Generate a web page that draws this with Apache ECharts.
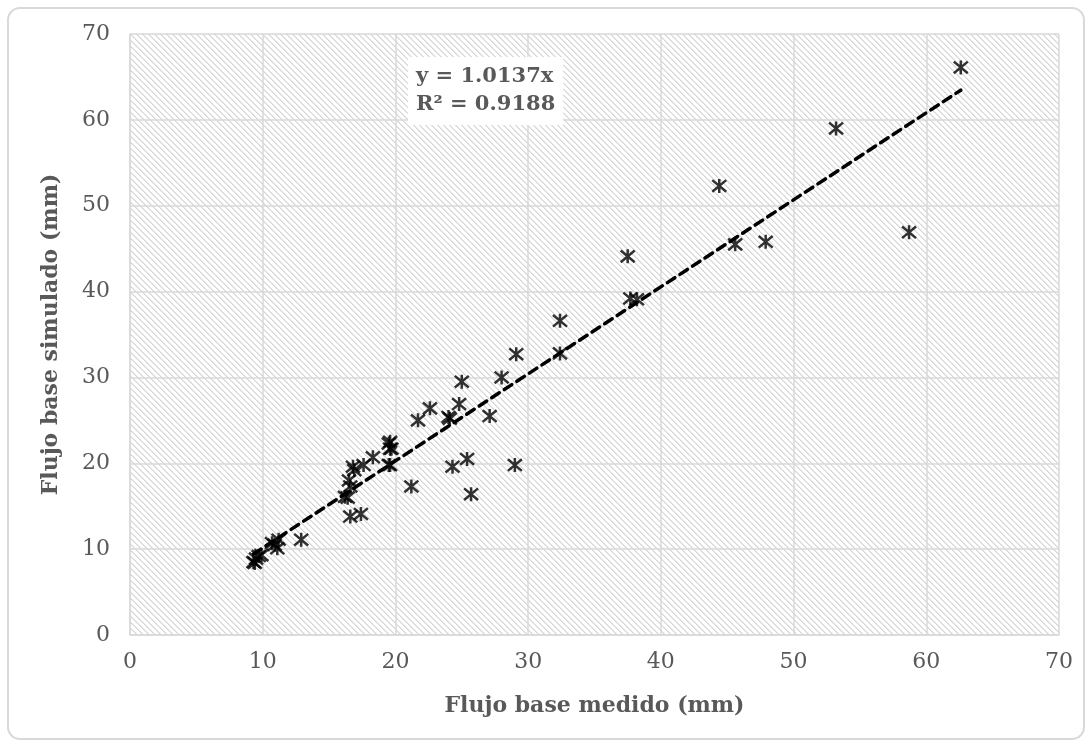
<!DOCTYPE html>
<html>
<head>
<meta charset="utf-8">
<script src="https://cdn.jsdelivr.net/npm/echarts@6/dist/echarts.min.js"></script>
<style>
  html, body { margin: 0; padding: 0; background: #fff; }
  #chart { width: 1091px; height: 745px; }
</style>
</head>
<body>
<div id="chart"></div>
<script>
// measured (x) vs simulated (y) baseflow, mm
const medido = [9.3, 9.5, 9.7, 9.4, 9.9, 10.7, 10.9, 11.1, 11.2, 12.9,
    16.6, 17.4, 16.2, 16.4, 16.5, 16.6, 16.8, 16.9, 17.6, 18.3,
    19.5, 19.6, 19.5, 19.6, 19.7, 19.6, 21.2, 21.7, 22.6, 24.0,
    24.1, 24.8, 25.0, 27.1, 28.0, 29.1, 24.3, 25.4, 29.0, 25.7,
    32.4, 32.4, 37.5, 37.7, 38.2, 44.4, 45.6, 47.9, 58.7, 53.2, 62.6];
const simulado = [8.5, 8.9, 9.2, 8.4, 9.3, 10.7, 10.5, 10.1, 11.1, 11.1,
    13.8, 14.1, 16.1, 16.0, 18.0, 17.3, 19.6, 19.2, 19.8, 20.7,
    22.3, 21.7, 19.8, 22.5, 21.7, 19.8, 17.3, 25.0, 26.4, 25.4,
    25.2, 26.9, 29.5, 25.5, 30.0, 32.7, 19.6, 20.5, 19.8, 16.4,
    36.6, 32.8, 44.1, 39.2, 39.1, 52.3, 45.5, 45.8, 46.9, 59.0, 66.1];
const slope = 1.0137;
const r2 = 0.9188;
const axisTicks = [0, 10, 20, 30, 40, 50, 60, 70];

const points = medido.map((x, i) => [x, simulado[i]]);
const xMin = Math.min(...medido);
const xMax = Math.max(...medido);
const trend = [[xMin, slope * xMin], [xMax, slope * xMax]];

// hatched plot background (light dotted diagonal stripes)
function hatch() {
    const n = 6;
    const c = document.createElement('canvas');
    c.width = n; c.height = n;
    const ctx = c.getContext('2d');
    ctx.fillStyle = '#ffffff';
    ctx.fillRect(0, 0, n, n);
    for (let x = 0; x < n; x++) {
        for (let y = 0; y < n; y++) {
            const d = ((x - y) % n + n) % n;
            if (d === 0) { ctx.fillStyle = '#d6d6d6'; ctx.fillRect(x, y, 1, 1); }
            else if (d === 1 && (x + y) % 2 === 1) { ctx.fillStyle = '#e6e6e6'; ctx.fillRect(x, y, 1, 1); }
        }
    }
    return c;
}

const font = '"DejaVu Serif", serif';
const grey = '#595959';
const gridCol = '#d9d9d9';

const chart = echarts.init(document.getElementById('chart'));

const axisCommon = {
    type: 'value',
    min: 0,
    max: 70,
    interval: 10,
    nameLocation: 'middle',
    nameTextStyle: { fontFamily: font, fontWeight: 'bold', fontSize: 22, color: grey },
    axisLine: { show: true, lineStyle: { color: gridCol, width: 1.5 } },
    axisTick: { show: false },
    splitLine: { show: true, lineStyle: { color: gridCol, width: 1.5 } },
    axisLabel: {
        fontFamily: font, fontSize: 22, color: grey,
        formatter: v => axisTicks.includes(v) ? String(v) : ''
    }
};

const option = {
    animation: false,
    backgroundColor: '#fff',
    grid: {
        left: 130, right: 32, top: 34, bottom: 110,
        show: true,
        borderWidth: 0,
        backgroundColor: { image: hatch(), repeat: 'repeat' }
    },
    title: {
        text: 'y = ' + slope.toFixed(4) + 'x\nR² = ' + r2.toFixed(4),
        left: 408,
        top: 57,
        backgroundColor: '#fff',
        padding: [6, 8, 6, 8],
        textStyle: { fontFamily: font, fontWeight: 'bold', fontSize: 21, color: grey, lineHeight: 28 }
    },
    xAxis: Object.assign({}, axisCommon, {
        name: 'Flujo base medido (mm)',
        nameGap: 60,
        axisLabel: Object.assign({}, axisCommon.axisLabel, { margin: 16 })
    }),
    yAxis: Object.assign({}, axisCommon, {
        name: 'Flujo base simulado (mm)',
        nameGap: 68,
        axisLabel: Object.assign({}, axisCommon.axisLabel, { margin: 20 })
    }),
    graphic: [{
        type: 'rect',
        silent: true,
        shape: { x: 8, y: 8, width: 1076, height: 731, r: 12 },
        style: { fill: 'none', stroke: '#d9d9d9', lineWidth: 2 }
    }],
    series: [
        {
            type: 'line',
            data: trend,
            symbol: 'none',
            lineStyle: { color: '#000', width: 3.5, type: [9, 6], cap: 'round' },
            z: 3
        },
        {
            type: 'scatter',
            data: points,
            symbol: 'path://M0,0L10,10M10,0L0,10M5,-1L5,11',
            symbolSize: 14,
            itemStyle: { color: 'none', borderColor: '#000', borderWidth: 2.5 },
            z: 4
        }
    ]
};

chart.setOption(option);
</script>
</body>
</html>
